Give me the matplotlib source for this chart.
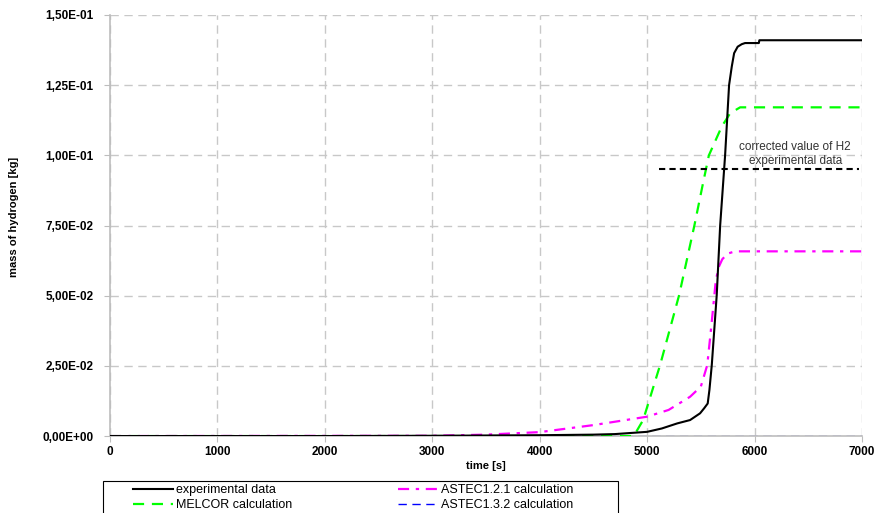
import numpy as np
import matplotlib
matplotlib.use("Agg")
import matplotlib.pyplot as plt
from matplotlib.ticker import FuncFormatter, MultipleLocator
from matplotlib.patches import Rectangle

plt.rcParams['font.family'] = ['Liberation Sans', 'DejaVu Sans']

# experimental data
exp_t = [0, 1000, 2000, 3000, 4000, 4500, 4700, 5000, 5137, 5280, 5400, 5493,
         5531, 5564, 5580, 5602, 5648, 5680, 5726, 5763, 5788, 5810, 5843, 5881,
         5912, 6040, 6045, 7000]
exp_m = [0, 0, 0, 0.0001, 0.0003, 0.0005, 0.0007, 0.0015, 0.0027, 0.0045, 0.0057,
         0.0081, 0.0099, 0.0116, 0.0164, 0.0253, 0.0502, 0.075, 0.100, 0.125,
         0.1316, 0.1364, 0.1387, 0.1396, 0.1400, 0.1400, 0.1410, 0.1410]

# MELCOR
mel_t = [0, 4870, 4880, 4963, 5121, 5298, 5440, 5520, 5575, 5694, 5773, 5866, 7000]
mel_m = [0, 0, 0.0003, 0.0057, 0.0253, 0.0502, 0.075, 0.090, 0.100, 0.1102,
         0.115, 0.1171, 0.1171]

# ASTEC 1.2.1
a121_t = [0, 3000, 3500, 4000, 4500, 5000, 5200, 5400, 5500, 5560, 5600, 5640,
          5670, 5700, 5750, 5820, 7000]
a121_m = [0, 0.0001, 0.0005, 0.0014, 0.0039, 0.0069, 0.0093, 0.014, 0.0176,
          0.0253, 0.040, 0.0556, 0.0605, 0.063, 0.065, 0.0658, 0.0658]

# ASTEC 1.3.2 (lies on zero)
a132_t = [0, 7000]
a132_m = [0, 0]

# corrected experimental value
corr_t = [5114, 6974]
corr_m = [0.0951, 0.0951]

fig = plt.figure(figsize=(8.75, 5.13), dpi=100)
ax = fig.add_axes([0.1257, 0.150, 0.8594, 0.8208])

ax.plot(a132_t, a132_m, color='#0000ff', lw=1.0, dashes=(6, 4),
        label='ASTEC1.3.2 calculation', zorder=2)
ax.plot(exp_t, exp_m, color='black', lw=1.5, label='experimental data', zorder=4)
ax.plot(mel_t, mel_m, color='#00ff00', lw=1.6, dashes=(5, 3.5),
        label='MELCOR calculation', zorder=3)
ax.plot(a121_t, a121_m, color='#ff00ff', lw=1.6, dashes=(5, 3, 1.5, 3),
        label='ASTEC1.2.1 calculation', zorder=3)
ax.plot(corr_t, corr_m, color='black', lw=1.5, dashes=(3, 2), zorder=4)
ax.text(6378, 0.1005, 'corrected value of H2\nexperimental data',
        ha='center', va='center', fontsize=8.5, color='#333333', linespacing=1.25)

ax.set_xlim(0, 7000)
ax.set_ylim(0, 0.15)
ax.xaxis.set_major_locator(MultipleLocator(1000))
ax.yaxis.set_major_locator(MultipleLocator(0.025))
ax.yaxis.set_major_formatter(FuncFormatter(lambda v, p: f"{v:.2E}".replace('.', ',')))
ax.grid(True, color='#c8c8c8', lw=1.0, dashes=(6, 4))
ax.set_axisbelow(True)
for s in ['top', 'right']:
    ax.spines[s].set_visible(False)
for s in ['left', 'bottom']:
    ax.spines[s].set_color('#bdbdbd')
    ax.spines[s].set_linewidth(1.2)
ax.tick_params(colors='#bdbdbd', length=4, labelcolor='black', labelsize=8.5)
ax.tick_params(axis='y', pad=8)
for lab in ax.get_xticklabels() + ax.get_yticklabels():
    lab.set_fontweight('bold')

ax.set_xlabel('time [s]', fontsize=8, fontweight='bold', labelpad=2)
ax.set_ylabel('mass of hydrogen [kg]', fontsize=8, fontweight='bold')
ax.yaxis.set_label_coords(-0.121, 0.52)

handles, labels = ax.get_legend_handles_labels()
order = [1, 2, 3, 0]
leg = fig.legend([handles[i] for i in order], [labels[i] for i in order],
                 loc='upper left', bbox_to_anchor=(133 / 875, -0.2, 440 / 875, 0.2565),
                 mode='expand', ncol=2, frameon=False, fontsize=9,
                 handlelength=3.2, borderaxespad=0, borderpad=0,
                 labelspacing=0.25, handletextpad=0.2)
fig.patches.append(Rectangle((103 / 875, -0.05), 515 / 875, 0.0624 + 0.05,
                             transform=fig.transFigure, fill=False,
                             edgecolor='black', lw=0.8))

fig.savefig('out.png', dpi=100)
